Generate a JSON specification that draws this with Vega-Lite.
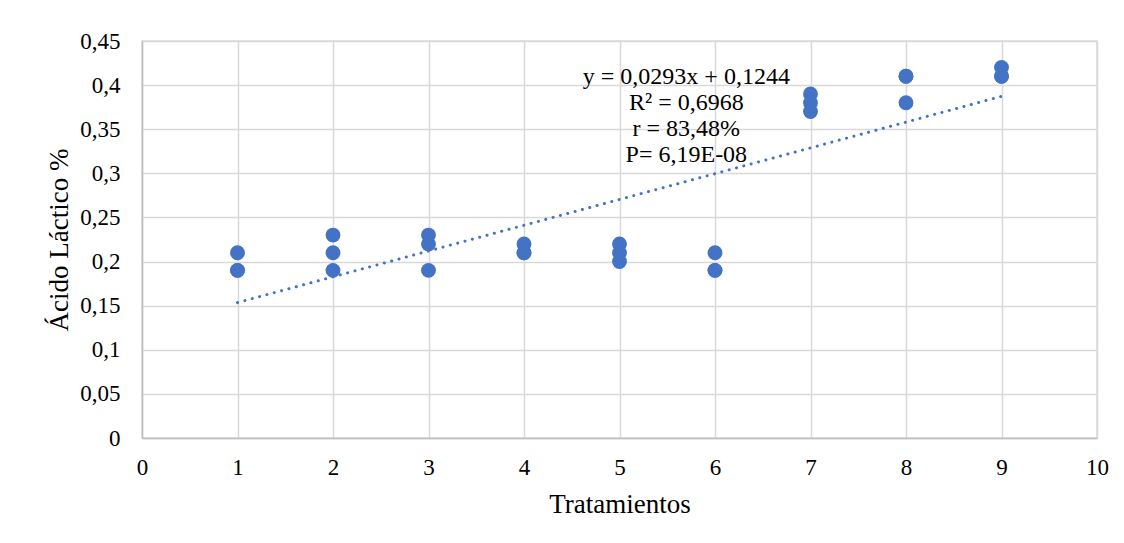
{
  "$schema": "https://vega.github.io/schema/vega-lite/v6.json",
  "width": 955,
  "height": 397,
  "autosize": "none",
  "padding": {"left": 142, "top": 41, "right": 27, "bottom": 105},
  "background": "white",
  "config": {
    "locale": {"number": {"decimal": ",", "thousands": ".", "grouping": [3], "currency": ["", " €"]}},
    "view": {"stroke": "#D9D9D9", "strokeWidth": 1.5},
    "font": "Liberation Serif",
    "axis": {
      "gridColor": "#D9D9D9",
      "gridWidth": 1.5,
      "ticks": false,
      "labelFlush": false,
      "labelFont": "Liberation Serif",
      "labelFontSize": 23,
      "labelColor": "#000000",
      "titleFont": "Liberation Serif",
      "titleFontSize": 27,
      "titleFontWeight": "normal",
      "titleColor": "#000000",
      "domainColor": "#BFBFBF",
      "domainWidth": 1.5
    }
  },
  "data": {
    "values": [
      {"Tratamientos": 1, "Acido": 0.21},
      {"Tratamientos": 1, "Acido": 0.19},
      {"Tratamientos": 1, "Acido": 0.19},
      {"Tratamientos": 2, "Acido": 0.23},
      {"Tratamientos": 2, "Acido": 0.21},
      {"Tratamientos": 2, "Acido": 0.19},
      {"Tratamientos": 3, "Acido": 0.23},
      {"Tratamientos": 3, "Acido": 0.22},
      {"Tratamientos": 3, "Acido": 0.19},
      {"Tratamientos": 4, "Acido": 0.22},
      {"Tratamientos": 4, "Acido": 0.21},
      {"Tratamientos": 4, "Acido": 0.21},
      {"Tratamientos": 5, "Acido": 0.22},
      {"Tratamientos": 5, "Acido": 0.21},
      {"Tratamientos": 5, "Acido": 0.20},
      {"Tratamientos": 6, "Acido": 0.21},
      {"Tratamientos": 6, "Acido": 0.19},
      {"Tratamientos": 6, "Acido": 0.19},
      {"Tratamientos": 7, "Acido": 0.39},
      {"Tratamientos": 7, "Acido": 0.38},
      {"Tratamientos": 7, "Acido": 0.37},
      {"Tratamientos": 8, "Acido": 0.41},
      {"Tratamientos": 8, "Acido": 0.41},
      {"Tratamientos": 8, "Acido": 0.38},
      {"Tratamientos": 9, "Acido": 0.42},
      {"Tratamientos": 9, "Acido": 0.41},
      {"Tratamientos": 9, "Acido": 0.41}
    ]
  },
  "layer": [
    {
      "mark": {"type": "point", "filled": true, "opacity": 1, "size": 220, "color": "#4472C4"},
      "encoding": {
        "x": {
          "field": "Tratamientos", "type": "quantitative",
          "scale": {"domain": [0, 10], "nice": false},
          "axis": {"values": [0,1,2,3,4,5,6,7,8,9,10], "labelPadding": 18, "title": "Tratamientos", "titlePadding": 12, "format": "d"}
        },
        "y": {
          "field": "Acido", "type": "quantitative",
          "scale": {"domain": [0, 0.45], "nice": false},
          "axis": {"values": [0,0.05,0.1,0.15,0.2,0.25,0.3,0.35,0.4,0.45], "format": ".2~f", "labelPadding": 22, "title": "Ácido Láctico %", "titlePadding": 6}
        }
      }
    },
    {
      "transform": [{"regression": "Acido", "on": "Tratamientos", "extent": [1, 9]}],
      "mark": {"type": "line", "color": "#4472C4", "strokeWidth": 3, "strokeDash": [0.1, 7.5], "strokeCap": "round"},
      "encoding": {
        "x": {"field": "Tratamientos", "type": "quantitative"},
        "y": {"field": "Acido", "type": "quantitative"}
      }
    },
    {
      "data": {"values": [{}]},
      "mark": {
        "type": "text",
        "text": ["y = 0,0293x + 0,1244", "R² = 0,6968", "r = 83,48%", "P= 6,19E-08"],
        "font": "Liberation Serif",
        "fontSize": 24,
        "lineHeight": 26,
        "align": "center",
        "baseline": "middle",
        "color": "#000000"
      },
      "encoding": {
        "x": {"datum": 5.7},
        "y": {"datum": 0.4095}
      }
    }
  ]
}
